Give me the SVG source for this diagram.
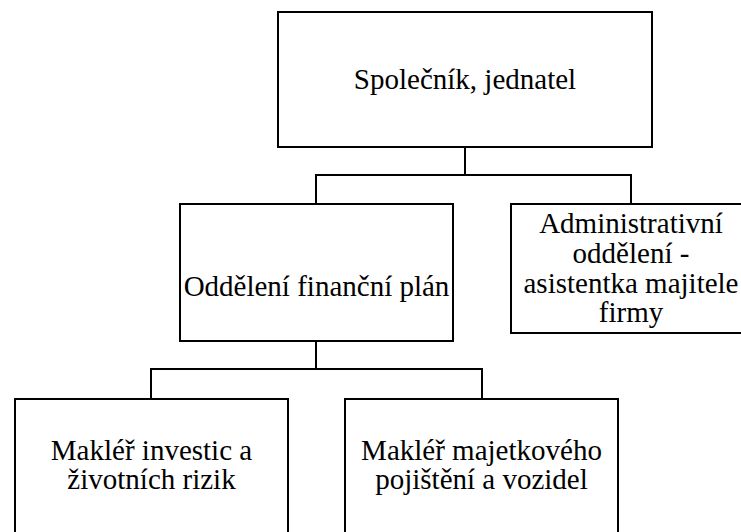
<svg xmlns="http://www.w3.org/2000/svg" width="741" height="532" viewBox="0 0 741 532">
<style>
.box{fill:#fff;stroke:#000;stroke-width:2}
.ln{fill:none;stroke:#000;stroke-width:2}
text{font-family:"Liberation Serif","Times New Roman",serif;font-size:29px;fill:#000;text-anchor:middle}
</style>
<rect width="741" height="532" fill="#fff"/>
<g id="connectors">
<path class="ln" d="M465,147V175M316,175H631M316,174V204M631,174V204"/>
<path class="ln" d="M316,341V369M151,369H482M151,368V399M482,368V399"/>
</g>
<g id="n-spolecnik">
<rect class="box" x="278" y="12" width="374" height="135"/>
<text x="465" y="89">Společník, jednatel</text>
</g>
<g id="n-oddeleni">
<rect class="box" x="180" y="204" width="273" height="137"/>
<text x="316.5" y="296">Oddělení finanční plán</text>
</g>
<g id="n-admin">
<rect class="box" x="511" y="204" width="240" height="129"/>
<text x="631" y="233">Administrativní</text>
<text x="631" y="263">oddělení -</text>
<text x="631" y="293">asistentka majitele</text>
<text x="631" y="322">firmy</text>
</g>
<g id="n-makler-investic">
<rect class="box" x="15" y="399" width="273" height="145"/>
<text x="151.5" y="460">Makléř investic a</text>
<text x="151.5" y="489">životních rizik</text>
</g>
<g id="n-makler-majetek">
<rect class="box" x="345" y="399" width="273" height="145"/>
<text x="481.5" y="460">Makléř majetkového</text>
<text x="481.5" y="489">pojištění a vozidel</text>
</g>
</svg>
